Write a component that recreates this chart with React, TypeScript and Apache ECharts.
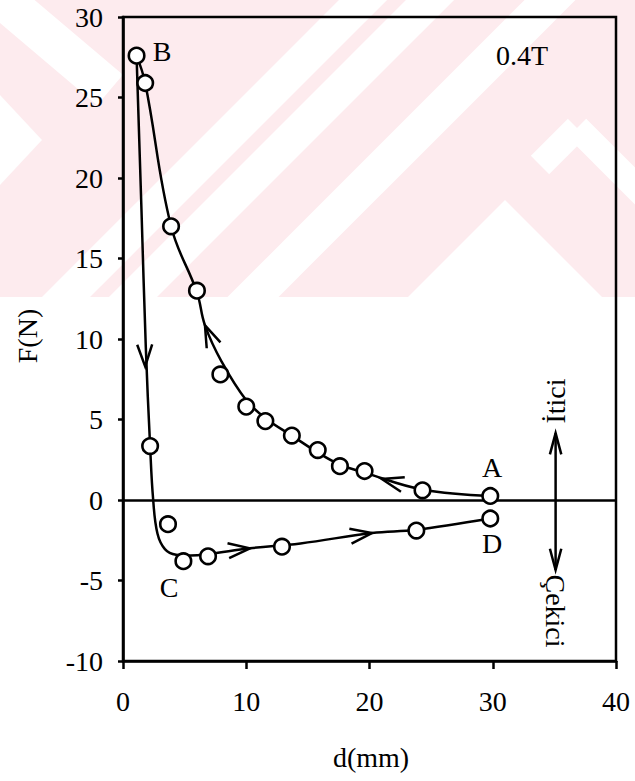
import React, { useEffect, useRef } from "react";
import * as echarts from "echarts";

// ---- data ----
const xTickValues = [0, 10, 20, 30, 40];
const yTickValues = [-10, -5, 0, 5, 10, 15, 20, 25, 30];

// measured circles: upper (repulsive, A -> B) branch
const upperPointsX = [1.1, 1.8, 3.9, 6.0, 7.9, 10.0, 11.55, 13.7, 15.8, 17.6, 19.6, 24.3, 29.8];
const upperPointsY = [27.6, 25.9, 17.0, 13.0, 7.8, 5.8, 4.9, 4.0, 3.1, 2.1, 1.8, 0.6, 0.25];

// measured circles: lower (B -> C -> D) branch
const lowerPointsX = [2.2, 3.65, 4.9, 6.9, 12.9, 23.8, 29.8];
const lowerPointsY = [3.35, -1.5, -3.8, -3.5, -2.9, -1.9, -1.15];

// drawn fit curves
const upperCurveX = [1.1, 1.8, 3.9, 6.0, 6.65, 8.0, 10.0, 11.7, 13.7, 15.7, 17.6, 19.6, 24.3, 29.8];
const upperCurveY = [27.6, 25.9, 17.0, 12.9, 10.85, 8.6, 6.2, 5.0, 4.0, 3.0, 2.2, 1.7, 0.65, 0.25];
const lowerCurveX = [1.1, 1.5, 1.85, 2.2, 2.45, 2.8, 3.4, 4.3, 5.5, 7.0, 10.3, 14.4, 20.2, 23.8, 29.8];
const lowerCurveY = [27.6, 18.0, 9.5, 3.35, 0.0, -2.1, -3.05, -3.4, -3.45, -3.35, -3.0, -2.7, -2.05, -1.85, -1.15];

// direction arrows on the curves: tip and a point behind it
const arrowTipX = [1.8, 6.65, 10.3, 20.2, 21.0];
const arrowTipY = [8.3, 10.85, -3.0, -2.05, 1.3];
const arrowFromX = [1.72, 7.3, 8.5, 18.0, 23.0];
const arrowFromY = [11.0, 9.7, -3.15, -2.3, 0.9];

// double arrow (İtici / Çekici)
const dirArrowX = 35.1;
const dirArrowTop = 4.15;
const dirArrowBottom = -4.35;

const FONT = '"Liberation Serif", "Times New Roman", serif';

function band(x1: number, y1: number, x2: number, y2: number, w: number) {
  const dx = x2 - x1, dy = y2 - y1;
  const len = Math.hypot(dx, dy);
  const nx = (-dy / len) * (w / 2), ny = (dx / len) * (w / 2);
  return [
    [x1 + nx, y1 + ny],
    [x2 + nx, y2 + ny],
    [x2 - nx, y2 - ny],
    [x1 - nx, y1 - ny],
  ];
}

export default function App() {
  const ref = useRef<HTMLDivElement>(null);
  useEffect(() => {
    if (!ref.current) return;
    const chart = echarts.init(ref.current, null, { renderer: "svg" });

    const zip = (xs: number[], ys: number[]) => xs.map((x, i) => [x, ys[i]]);
    const arrowData = arrowTipX.map((x, i) => [x, arrowTipY[i], arrowFromX[i], arrowFromY[i]]);
    arrowData.push([dirArrowX, dirArrowTop, dirArrowX, 0]);
    arrowData.push([dirArrowX, dirArrowBottom, dirArrowX, 0]);

    const white = "#ffffff";
    const pink = "#fdebee";
    const wm = (points: number[][]) => ({ type: "polygon", shape: { points }, style: { fill: white }, z: -99, silent: true });
    const watermark: any[] = [
      { type: "rect", shape: { x: 0, y: 0, width: 635, height: 297 }, style: { fill: pink }, z: -100, silent: true },
      wm(band(-20, -20, 110, 90, 40)),
      wm([[0, 95], [42, 140], [0, 185]]),
      wm(band(0, 363, 380, -17, 34)),
      wm(band(100, 330, 450, -20, 34)),
      wm(band(220, 330, 570, -20, 36)),
      wm([[505, 200], [610, 305], [400, 305]]),
      wm(band(540, 165, 577, 128, 26)),
      wm(band(577, 128, 650, 201, 26)),
    ];

    const txt = (text: string, x: number, y: number, rotation = 0) => ({
      type: "text",
      x,
      y,
      rotation,
      z: 100,
      silent: true,
      style: { text, fill: "#000", font: `28px ${FONT}`, align: "center", verticalAlign: "middle" },
    });

    const circleStyle = { color: "#fff", borderColor: "#000", borderWidth: 2.6, opacity: 1 };

    const option: any = {
      animation: false,
      backgroundColor: "#ffffff",
      grid: { left: 123, right: 19, top: 17, bottom: 120, show: true, borderColor: "#000", borderWidth: 2.5, backgroundColor: "transparent" },
      xAxis: {
        type: "value",
        min: xTickValues[0],
        max: xTickValues[xTickValues.length - 1],
        interval: 10,
        axisLine: { onZero: false, lineStyle: { color: "#000", width: 2.6 } },
        axisTick: { inside: false, length: 8, lineStyle: { color: "#000", width: 2.5 } },
        splitLine: { show: false },
        axisLabel: { color: "#000", fontSize: 28, fontFamily: FONT, margin: 26 },
      },
      yAxis: {
        type: "value",
        min: yTickValues[0],
        max: yTickValues[yTickValues.length - 1],
        interval: 5,
        axisLine: { onZero: false, lineStyle: { color: "#000", width: 2.6 } },
        axisTick: { inside: false, length: 5, lineStyle: { color: "#000", width: 2.5 } },
        splitLine: { show: false },
        axisLabel: { color: "#000", fontSize: 28, fontFamily: FONT, margin: 20 },
      },
      graphic: [
        ...watermark,
        txt("F(N)", 27, 336, Math.PI / 2),
        txt("d(mm)", 371, 757),
        txt("B", 162, 51),
        txt("0.4T", 522, 55),
        txt("A", 492, 467),
        txt("D", 492, 543),
        txt("C", 169, 587),
        txt("İtici", 555, 401, Math.PI / 2),
        txt("Çekici", 555, 611, -Math.PI / 2),
      ],
      series: [
        {
          type: "line",
          data: zip(upperCurveX, upperCurveY),
          smooth: 0.4,
          showSymbol: false,
          lineStyle: { color: "#000", width: 2.5 },
          silent: true,
          z: 3,
          markLine: {
            silent: true,
            symbol: ["none", "none"],
            label: { show: false },
            lineStyle: { color: "#000", width: 2.5, type: "solid" },
            data: [{ yAxis: 0 }],
          },
        },
        {
          type: "line",
          data: zip(lowerCurveX, lowerCurveY),
          smooth: 0.4,
          showSymbol: false,
          lineStyle: { color: "#000", width: 2.5 },
          silent: true,
          z: 3,
        },
        {
          type: "line",
          data: [[dirArrowX, dirArrowTop], [dirArrowX, dirArrowBottom]],
          showSymbol: false,
          lineStyle: { color: "#000", width: 2.5 },
          silent: true,
          z: 3,
        },
        {
          type: "custom",
          silent: true,
          z: 4,
          clip: false,
          encode: { x: [0, 2], y: [1, 3] },
          data: arrowData,
          renderItem: (params: any, api: any) => {
            const tip = api.coord([api.value(0), api.value(1)]);
            const from = api.coord([api.value(2), api.value(3)]);
            const ang = Math.atan2(from[1] - tip[1], from[0] - tip[0]);
            const isDir = params.dataIndex >= arrowTipX.length;
            const L = isDir ? 22 : 23;
            const a = ((isDir ? 15 : 19) * Math.PI) / 180;
            const p1 = [tip[0] + L * Math.cos(ang + a), tip[1] + L * Math.sin(ang + a)];
            const p2 = [tip[0] + L * Math.cos(ang - a), tip[1] + L * Math.sin(ang - a)];
            return {
              type: "polyline",
              shape: { points: [p1, tip, p2] },
              style: { stroke: "#000", lineWidth: 2.5, fill: "none" },
            };
          },
        },
        {
          type: "scatter",
          data: zip(upperPointsX, upperPointsY),
          symbol: "circle",
          symbolSize: 15.5,
          itemStyle: circleStyle,
          silent: true,
          z: 6,
        },
        {
          type: "scatter",
          data: zip(lowerPointsX, lowerPointsY),
          symbol: "circle",
          symbolSize: 15.5,
          itemStyle: circleStyle,
          silent: true,
          z: 6,
        },
      ],
    };
    chart.setOption(option);
    return () => chart.dispose();
  }, []);

  return <div ref={ref} style={{ position: "fixed", left: 0, top: 0, width: 635, height: 781 }} />;
}
